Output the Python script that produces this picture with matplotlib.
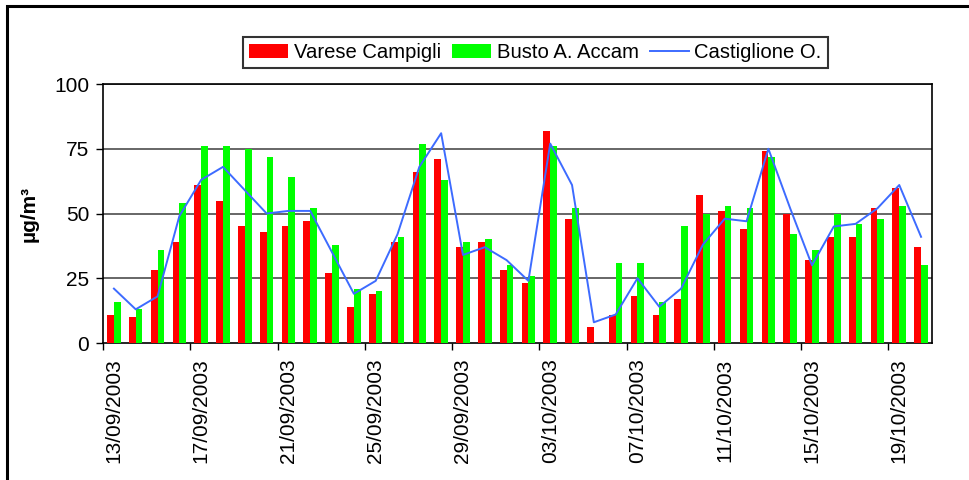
import matplotlib
matplotlib.use("Agg")
import matplotlib.pyplot as plt
from matplotlib.patches import Rectangle
import numpy as np

# one category per day, 13/09/2003 .. 20/10/2003
dates = ["13/09/2003", "14/09/2003", "15/09/2003", "16/09/2003", "17/09/2003",
         "18/09/2003", "19/09/2003", "20/09/2003", "21/09/2003", "22/09/2003",
         "23/09/2003", "24/09/2003", "25/09/2003", "26/09/2003", "27/09/2003",
         "28/09/2003", "29/09/2003", "30/09/2003", "01/10/2003", "02/10/2003",
         "03/10/2003", "04/10/2003", "05/10/2003", "06/10/2003", "07/10/2003",
         "08/10/2003", "09/10/2003", "10/10/2003", "11/10/2003", "12/10/2003",
         "13/10/2003", "14/10/2003", "15/10/2003", "16/10/2003", "17/10/2003",
         "18/10/2003", "19/10/2003", "20/10/2003"]

varese = [11, 10, 28, 39, 61, 55, 45, 43, 45, 47,
          27, 14, 19, 39, 66, 71, 37, 39, 28, 23,
          82, 48, 6, 11, 18, 11, 17, 57, 51, 44,
          74, 50, 32, 41, 41, 52, 60, 37]

busto = [16, 13, 36, 54, 76, 76, 75, 72, 64, 52,
         38, 21, 20, 41, 77, 63, 39, 40, 30, 26,
         76, 52, np.nan, 31, 31, 16, 45, 50, 53, 52,
         72, 42, 36, 50, 46, 48, 53, 30]

castiglione = [21, 13, 18, 49, 63, 68, 59, 50, 51, 51,
               35, 19, 24, 42, 68, 81, 34, 37, 32, 24,
               77, 61, 8, 11, 25, 14, 21, 38, 48, 47,
               75, 52, 30, 45, 46, 52, 61, 41]

yticks = [0, 25, 50, 75, 100]

RED = "#ff0000"
GREEN = "#00ff00"
BLUE = "#3d6bff"


def makePlot(fout="out.png"):
    plt.rcParams["font.family"] = ["Liberation Sans", "DejaVu Sans"]
    fig = plt.figure(figsize=(9.7, 4.8), dpi=100)
    ax = fig.add_axes([0.1062, 0.2854, 0.8546, 0.5396])

    x = np.arange(len(dates))
    w = 0.31
    b1 = ax.bar(x - w / 2, varese, w, color=RED, zorder=3)
    b2 = ax.bar(x + w / 2, busto, w, color=GREEN, zorder=3)
    ln, = ax.plot(x, castiglione, color=BLUE, lw=1.4, zorder=4)

    ax.set_xlim(-0.5, len(dates) - 0.5)
    ax.set_ylim(0, 100)
    ax.set_yticks(yticks)
    ax.tick_params(axis="y", labelsize=15, length=5, width=1, pad=5)
    for yv in yticks[1:]:
        ax.axhline(yv, color="#5a5a5a", lw=1.3, zorder=1)

    # labels on every 4th day, ticks on the category boundaries
    ax.set_xticks(x[::4], [dates[i] for i in x[::4]], rotation=90)
    ax.set_xticks(np.arange(-0.5, len(dates), 4), minor=True)
    ax.tick_params(axis="x", which="major", length=0, labelsize=15, pad=11)
    ax.tick_params(axis="x", which="minor", length=5, width=1)

    for s in ax.spines.values():
        s.set_linewidth(1.2)
    ax.set_ylabel("µg/m³", fontsize=15, fontweight="bold", labelpad=11)

    leg = fig.legend([b1, b2, ln], ["Varese Campigli", "Busto A. Accam", "Castiglione O."],
                     loc="center", bbox_to_anchor=(0.552, 0.8906), ncol=3,
                     fontsize=14.6, frameon=True, fancybox=False,
                     edgecolor="black", handlelength=1.93, handleheight=0.7,
                     handletextpad=0.28, columnspacing=0.53, borderpad=0.3,
                     borderaxespad=0)
    leg.get_frame().set_linewidth(1.5)

    # outer chart frame, cut off at right and bottom
    fig.add_artist(Rectangle((0.0072, -0.05), 1.2, 1.0375, transform=fig.transFigure,
                             fill=False, edgecolor="black", lw=2.2))

    fig.savefig(fout, dpi=100)


def main():
    makePlot("out.png")


if __name__ == '__main__':
    main()
